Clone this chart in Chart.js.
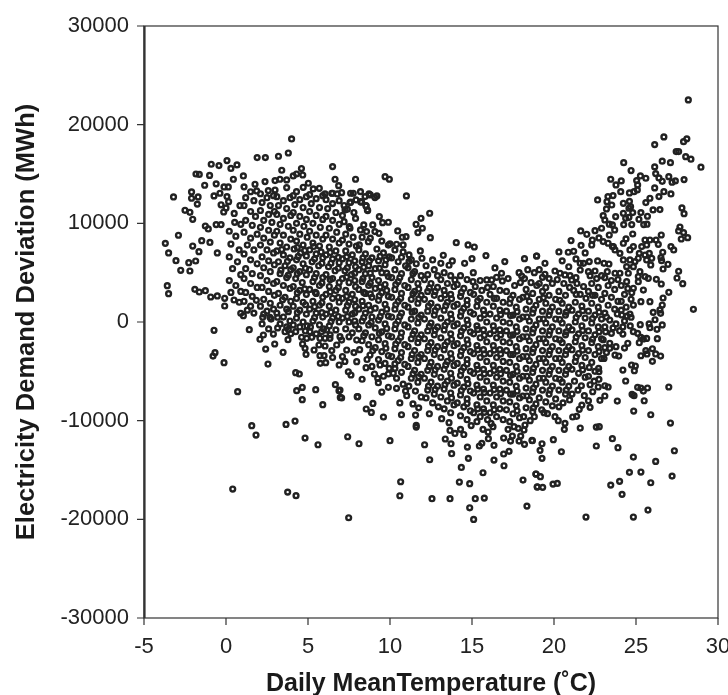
<!DOCTYPE html>
<html>
<head>
<meta charset="utf-8">
<title>Electricity demand deviation</title>
<script src="https://cdn.jsdelivr.net/npm/chart.js@4/dist/chart.umd.min.js"></script>
<style>
html, body { margin: 0; padding: 0; background: #fff; }
#wrap { width: 728px; height: 695px; }
</style>
</head>
<body>
<div id="wrap"><canvas id="myChart" width="728" height="695"></canvas></div>
<script>
// [temperature, deviation], grouped by part of the cloud
var coldEdge = [[4.0,18550],[3.8,17130],[1.9,16660],[2.4,16660],[3.2,16800],[3.4,15380],[4.6,15550],[6.5,15750],[0.06,16360],[-0.9,15990],[-0.43,15850],[0.67,15920],[0.3,15570],[-1.83,15000],[-1.63,14960],[-1,14860],[-1.3,13860],[-0.6,14000],[-2.1,13180],[-3.2,12675],[-2.1,12540],[-1.7,12675],[-0.73,12780],[-0.37,13050],[-0.12,13690],[0.14,13690],[0.06,12710],[0.16,12200],[-1.75,11950],[-0.3,11880],[0,11560],[-0.14,11150],[-2.5,11320],[-2.2,11120],[-2.03,10410],[-1.26,9730],[-1.08,9430],[-0.6,9870],[-0.3,9870],[0.53,10100],[-2.9,8790],[-3.7,7970],[-3.5,7000],[-3.05,6220],[-2.27,6010],[-1.85,6180],[-2.76,5240],[-2.2,5170],[-2.03,7700],[-1.48,8240],[-0.98,8070],[-1.65,7130],[-0.53,7000],[-3.58,3680],[-3.5,2870],[-1.9,3310],[-1.63,3040],[-1.26,3170],[-0.93,2535],[-0.53,2640],[-0.08,1620],[-0.08,2400],[0.49,2230],[0.81,2000],[-0.73,-840],[1.42,-780],[2.07,-1750],[2.28,-1320],[2.89,-1220],[2.97,-2230],[2.42,-2740],[3.48,-3070],[3.78,-1790],[2.56,-4260],[4.88,-3280],[5.37,-2840],[-0.67,-3110],[-0.79,-3450],[-0.12,-4120],[4.25,-5140],[4.47,-5270],[0.71,-7060],[4.31,-6960],[4.65,-6630],[5.47,-6860],[6.67,-6350],[6.89,-6970],[4.65,-7870],[5.9,-8380],[6.97,-7640],[1.57,-10510],[1.83,-11460],[3.66,-10380],[4.21,-10040],[4.82,-11760],[5.61,-12440],[0.41,-16930],[3.76,-17240],[4.27,-17600],[5.73,-3410],[5.98,-3410],[5.75,-4190],[6.08,-4120],[4.84,-910],[5.12,-980],[4.61,-1550],[4.92,-1650],[5.23,-1550],[4.67,-2230],[4.82,-2670],[3.6,-980],[4.25,-980],[3.8,-740],[0.9,880],[1.06,640],[2.24,480],[2.68,480],[3.15,480],[5.73,-1650],[6.04,-1650],[6.34,-1650],[6.04,-2430],[5.67,-2330],[5.83,-980],[6.14,-810],[6.75,-2330],[6.95,-1490],[6.9,-4360]];
var coldTop = [[1.06,14800],[0.45,14470],[1.77,13960],[2.38,14230],[2.99,14330],[3.29,14470],[3.7,14400],[4.1,14800],[4.3,15000],[4.68,14900],[5.02,14060],[4.71,13650],[3.7,13620],[4.3,13210],[2.99,13380],[2.58,13320],[1.87,13280],[5.32,13490],[5.69,13550],[6.04,12980],[6.5,13050],[6.78,12980],[6.65,14470],[6.87,13820],[7.9,14470],[9.7,14730],[9.96,14470],[11,12780],[9.2,12780],[8.8,12880]];
var coldRidge = [[6.45,13050],[7.05,13110],[7.6,13050],[7.76,13050],[8.2,13210],[8.48,12710],[8.72,12980],[9.08,12610],[7.6,12140],[7.93,12370],[8.27,12140],[8.54,11760],[8.64,11290]];
var midTop = [[12.42,11020],[11.89,10510],[11.59,9900],[11.97,9500],[11.7,9060],[12.46,8550],[14.04,8040],[14.76,7810],[15.14,7600],[15.85,6730],[17.0,6120],[18.2,6420],[18.94,6690],[15,6420],[14.55,5950],[16.4,5480],[16.8,4940],[15.08,5000],[15.06,4090],[17.87,5000],[18.03,4660],[15.9,4260],[16.2,4260],[16.5,4530],[16.85,4160],[13.96,4260],[13.8,6190],[13.6,5750],[13.25,6760],[13.1,5950],[12.6,6290],[11.95,6460],[11.85,7200],[11.16,6800],[10.7,6560],[11.16,6150],[10.47,9230],[10.75,8590],[10.98,8650],[10.8,7810],[10.4,7880],[10,7910],[9.9,10110],[9.55,10070],[9.35,10680],[8.95,9840],[8.4,9840],[8.2,9330],[8.57,9160],[9.08,9160],[9.33,8990],[8.62,11360],[8.54,11790],[8.21,12200],[7.56,12100],[7.26,11360],[7.4,11430],[8.68,8140],[8.13,7810],[7.56,9500],[7.2,10170],[7.52,9660]];
var midBottom = [[7.05,-1830],[7.97,-1830],[7.36,-2840],[8.78,-3350],[7.97,-4020],[8.54,-4630],[7.46,-5040],[7.62,-5370],[9.05,-5270],[9.25,-5710],[9.29,-6150],[9.9,-5270],[10.2,-5200],[9.9,-6620],[10.4,-6720],[8.03,-7570],[6.95,-6900],[11.02,-7470],[9.39,-4360],[7.42,-11630],[8.11,-12340],[10.0,-12030],[12.11,-12440],[12.42,-13960],[10.65,-16190],[10.6,-17610],[12.56,-17910],[13.66,-17910],[14.23,-16220],[14.86,-16390],[14.35,-14740],[15.67,-15280],[13.76,-13350],[14.78,-13820],[14.72,-12680],[16.34,-13990],[16.95,-14570],[15.2,-17910],[15.75,-17850],[14.86,-18830],[15.1,-20010],[7.48,-19840],[18.35,-18660],[18.11,-16020],[18.98,-16700],[18.9,-15410],[16.34,-12500],[16.93,-13380],[17.26,-13110],[15.45,-12570],[15.6,-12300],[13.72,-12340],[13.37,-11860],[18.66,-12000],[18.2,-12400],[8.0,-7570],[7.05,-7700],[8.96,-8250],[8.55,-8820],[8.86,-9160],[9.6,-9630],[10.7,-9400],[11.56,-9430],[11.6,-10480],[11.6,-10650],[13.66,-10990],[13.96,-11290],[14.3,-10880],[15.67,-10880],[15.98,-11150],[16,-11830],[16.16,-10280],[16.28,-10610],[16.93,-11760],[17.35,-12070],[17.87,-12070],[17.97,-11560],[17.2,-10880],[17.56,-10610],[17.82,-10780],[18.23,-10440],[18.17,-10950],[17.46,-11560]];
var warmBottom = [[28.5,1285],[27.0,-6590],[25.9,-9400],[27.1,-10240],[24.86,-9025],[27.34,-13050],[26.2,-14130],[27.2,-15620],[25.3,-15210],[24.6,-15240],[25.9,-16290],[24.0,-16150],[23.46,-16530],[24.15,-17470],[25.73,-19060],[24.84,-19770],[21.95,-19770],[24.84,-13690],[23.9,-12740],[23.56,-11830],[22.58,-12570],[20.45,-13150],[19.27,-13820],[19.15,-13010],[19.27,-12340],[19.96,-11930],[18.68,-12030],[18.9,-15410],[19.17,-15680],[18.98,-16730],[19.31,-16760],[19.94,-16430],[20.2,-16360],[21.6,-10750],[22.58,-10650],[22.76,-10610],[20.63,-10880],[20.67,-10270],[20.26,-10000],[21.14,-9630],[21.38,-9560],[20.06,-9600],[19.39,-9190],[19.6,-9290],[18.8,-9600],[22.2,-8650],[21.54,-8850],[21.7,-8420],[22.1,-7980],[21.85,-7470],[22.8,-7940],[23.1,-7500],[23.86,-8010],[24.88,-7470],[24.76,-7330],[25.5,-7980],[25.1,-6620],[25.3,-6690],[25.45,-7000],[25.7,-6690],[24.37,-5980],[24.2,-4870],[24.9,-4940],[24.73,-4360],[24.96,-4460],[23.3,-6590],[23.1,-6460],[22.7,-6590],[22.36,-7070],[22.2,-6360],[21.67,-6460],[21.46,-6900],[22.74,-5810],[22.72,-4700],[22.74,-5040],[26.0,-3990],[26.5,-3450],[26,-2710],[25.67,-3240],[25.3,-3420],[25.6,-2910],[26.2,-3240],[26.3,-1690],[25.2,-2100],[25.45,-1720],[25.65,-1660],[24.84,-980],[25.1,-1150],[25.3,-1550],[25.26,-270],[25.8,-200],[25.85,-580],[26.28,-740],[26.6,-300],[26.05,980],[26.5,880],[26.16,230],[26.6,1720],[26.46,1220],[25.85,2060],[25.3,2060],[24.84,1720],[24.63,810],[24.7,480],[24.2,-1220],[24.5,-2160],[24.3,-2640],[23.95,-3450],[23.72,-3350],[23.86,810],[24.13,710],[24,-880],[23.78,-200],[23.4,200],[23.5,-1150],[23.78,-2500],[23.4,-2160],[23.4,-2670]];
var warmTop = [[28.19,22510],[26.7,18760],[26.14,17980],[28.1,18560],[27.9,18280],[27.45,17270],[27.6,17270],[28.03,16760],[28.35,16500],[28.96,15690],[26.6,16300],[27.1,16150],[24.25,16150],[24.7,15350],[26.14,15720],[26.2,15040],[26.4,14600],[26.6,14260],[27,14730],[27.2,14170],[27.4,14300],[27.93,14430],[23.46,14470],[23.78,13890],[24.1,14300],[24.07,13210],[25.27,14800],[25.6,14570],[25.04,14330],[25.1,13890],[25.08,13385],[24.6,13080],[24.88,13210],[26.14,13590],[26.7,13210],[26.4,12710],[27.13,12980],[25.85,12540],[25.6,12100],[26.04,11360],[26.46,11390],[27.8,11560],[27.93,10980],[27.68,9630],[27.6,9230],[27.9,9060],[27.76,8410],[28.15,8550],[26.54,8820],[27.13,7640],[27.3,7300],[26.63,7070],[26.52,6520],[26.56,6220],[26.95,5850],[26.65,5370],[27.6,5140],[27.5,4460],[27.85,3880],[26.24,4330],[26.54,3850],[27,3010],[26.65,2430],[22.66,12370],[23.29,12710],[23.6,12810],[23.23,12200],[24.6,12230],[24.67,11690],[24.23,12030],[23.52,11860],[23.2,11460],[24.57,11530],[23,10780],[23.76,10680],[24.23,11020],[24.8,11090],[24.37,10510],[25.3,11090],[25.7,10720],[25.18,10410],[23.1,10340],[23.37,9910],[24.25,9870],[24.74,9870],[25.47,9870],[25.67,9910],[24.57,10610],[22.9,9500],[23.56,9840],[23.7,9330],[22.5,9260],[21.63,9230],[22,8890],[23.37,8820],[22.74,8520],[22.34,8310],[21.04,8250],[21.65,7770],[22.3,7810],[24.8,8920],[24.39,8420],[24.23,7980],[23.56,7640],[23,8150],[23.3,7980],[23.72,7300],[18.94,6690],[19.45,5950],[20.3,7100],[20.87,7070],[21.2,7170],[19.45,4840],[19.3,4530],[20.06,5170],[20.37,4940],[21.34,6390],[21.6,5950],[21.8,5950],[22.15,6120],[22.66,6190],[23.05,5950],[23.35,5880],[21.6,5270],[22.1,5100],[22.5,5170],[23.25,5100],[20.67,4770],[20.98,4700],[21.34,4490],[21.08,4260],[25.55,8310],[25.85,8310],[26.22,8310],[26.36,7870],[25.35,7640],[25.65,7810],[25.81,6960],[25.96,6460],[25.9,5780],[25.2,6960],[25.14,6460],[25.55,6790],[25.65,6290],[24.63,7300],[24.84,7640],[24.02,6960],[23.62,7640],[24.63,6290],[24.23,6290],[24.94,6120],[24.43,5610],[24.84,5610],[25.24,5100],[25.55,4600],[25.75,4430],[25.14,4600],[24.02,4940],[24.53,4940],[23.72,4940],[24.43,4090],[25.14,4090],[25.45,3240],[24.84,3420],[24.74,2970]];

// packed part of the cloud, one list per degree of temperature
var deg0 = [[0.2,9200],[0.6,8700],[0.3,7900],[0.8,7300],[0.2,6600],[0.7,6100],[0.4,5400],[0.9,4800],[0.2,4200],[0.6,3700],[0.9,3100],[0.3,3000],[0.5,11000],[0.85,11800],[0.9,9900]];
var deg1 = [[1.1,13700],[1.5,13200],[1.2,12600],[1.7,12300],[1.1,11800],[1.5,11200],[1.8,10700],[1.2,10300],[1.6,9800],[1.1,9100],[1.5,8500],[1.9,8900],[1.3,7800],[1.7,7300],[1.1,6900],[1.5,6300],[1.9,5900],[1.2,5400],[1.6,4900],[1.1,4400],[1.5,3900],[1.9,3500],[1.2,3000],[1.6,2600],[1.1,2100],[1.5,1600],[1.85,2200],[1.3,1200],[1.7,900]];
var deg2 = [[2.1,13000],[2.5,12600],[2.9,12800],[2.2,12100],[2.7,11800],[2.1,11300],[2.6,10900],[2.95,11200],[2.3,10300],[2.8,10100],[2.1,9600],[2.6,9300],[2.95,8800],[2.3,8500],[2.7,8100],[2.1,7800],[2.5,7300],[2.9,7000],[2.2,6600],[2.6,6200],[2.95,5800],[2.3,5500],[2.7,5100],[2.1,4700],[2.5,4200],[2.9,3900],[2.2,3500],[2.6,3100],[2.95,2700],[2.3,2300],[2.7,1900],[2.1,1600],[2.5,1100],[2.9,1300],[2.3,800],[2.75,300],[2.2,-200],[2.6,-700]];
var deg3 = [[3.1,12700],[3.5,12300],[3.9,12600],[3.2,11800],[3.7,11500],[3.1,10900],[3.5,10500],[3.95,10800],[3.3,9900],[3.8,9700],[3.1,9200],[3.5,8800],[3.95,8400],[3.3,8000],[3.7,7600],[3.1,7200],[3.5,6800],[3.9,6500],[3.2,6100],[3.6,5700],[3.95,5300],[3.3,4900],[3.7,4500],[3.1,4100],[3.5,3700],[3.9,3400],[3.2,2900],[3.6,2500],[3.95,2100],[3.3,1700],[3.7,1300],[3.1,900],[3.5,500],[3.9,100],[3.3,-200],[3.7,-500],[3.15,-600],[3.95,-1200]];
var deg4 = [[4.1,12800],[4.5,12400],[4.9,12700],[4.2,11900],[4.7,11600],[4.1,11100],[4.5,10700],[4.9,10400],[4.3,10000],[4.75,9700],[4.1,9300],[4.5,8900],[4.95,8600],[4.3,8200],[4.7,7800],[4.15,7400],[4.55,7000],[4.9,6700],[4.3,6300],[4.7,5900],[4.1,5500],[4.5,5100],[4.9,4800],[4.25,4400],[4.65,4000],[4.1,3600],[4.5,3200],[4.9,2800],[4.3,2400],[4.7,2000],[4.1,1600],[4.5,1200],[4.9,800],[4.3,400],[4.7,0],[4.1,-300],[4.5,-500],[4.95,-400]];
var deg5 = [[5.1,12900],[5.5,12500],[5.9,12800],[5.2,12000],[5.7,11600],[5.1,11200],[5.5,10800],[5.9,10400],[5.3,10000],[5.75,9600],[5.1,9200],[5.5,8800],[5.9,8400],[5.3,8000],[5.7,7700],[5.1,7300],[5.5,6900],[5.9,6500],[5.25,6100],[5.65,5700],[5.1,5300],[5.5,4900],[5.9,4500],[5.3,4100],[5.7,3700],[5.1,3300],[5.5,2900],[5.9,2500],[5.3,2100],[5.7,1700],[5.1,1300],[5.5,900],[5.9,500],[5.3,100],[5.7,-300],[5.15,-500],[5.95,-700],[5.5,-1200]];
var deg6 = [[6.1,12400],[6.5,12000],[6.9,12300],[6.2,11500],[6.7,11100],[6.1,10700],[6.5,10300],[6.9,9900],[6.3,9500],[6.75,9100],[6.1,8800],[6.5,8400],[6.9,8000],[6.3,7600],[6.7,7200],[6.1,6800],[6.5,6400],[6.9,6000],[6.25,5600],[6.65,5200],[6.1,4800],[6.5,4400],[6.9,4000],[6.3,3600],[6.7,3200],[6.1,2800],[6.5,2400],[6.9,2000],[6.3,1600],[6.7,1200],[6.1,800],[6.5,400],[6.9,0],[6.3,-400],[6.7,-800],[6.45,-2900],[6.5,-3600],[6.35,-1300]];
var deg7 = [[7.2,11800],[7.8,11100],[7.1,10800],[7.9,10500],[7.3,8900],[7.75,8600],[7.1,8300],[7.5,7900],[7.95,7700],[7.3,7200],[7.7,6800],[7.1,6400],[7.5,6000],[7.9,5600],[7.25,5200],[7.65,4800],[7.1,4400],[7.5,4000],[7.9,3600],[7.3,3200],[7.7,2800],[7.1,2400],[7.5,2000],[7.9,1600],[7.3,1200],[7.7,800],[7.1,400],[7.5,0],[7.9,-300],[7.3,-700],[7.7,-1100],[7.5,-1500],[7.25,-4000],[7.8,-3100],[7.1,-3500]];
var deg8 = [[8.3,8600],[8.8,8500],[8.1,7300],[8.5,6900],[8.9,6500],[8.3,6100],[8.7,5700],[8.1,5300],[8.5,4900],[8.9,4500],[8.3,4100],[8.7,3700],[8.1,3300],[8.5,2900],[8.9,2500],[8.3,2100],[8.7,1700],[8.1,1300],[8.5,900],[8.9,500],[8.3,100],[8.7,-300],[8.1,-700],[8.5,-1100],[8.9,-1500],[8.3,-1900],[8.7,-2300],[8.15,-2800],[8.95,-2900],[8.6,-3800],[8.9,-4500],[8.3,-5800]];
var deg9 = [[9.5,8200],[9.9,7800],[9.2,7400],[9.6,7000],[9.95,6600],[9.3,6200],[9.7,5800],[9.1,5400],[9.5,5000],[9.9,4600],[9.3,4200],[9.7,3800],[9.1,3400],[9.5,3000],[9.9,2600],[9.3,2200],[9.7,1800],[9.1,1400],[9.5,1000],[9.9,600],[9.3,200],[9.7,-200],[9.1,-600],[9.5,-1000],[9.9,-1400],[9.3,-1800],[9.7,-2200],[9.1,-2600],[9.5,-3000],[9.9,-3400],[9.3,-3800],[9.7,-4200],[9.95,-4700],[9.6,-5500],[9.5,-7100]];
var deg10 = [[10.3,7300],[10.8,7100],[10.1,6500],[10.5,6100],[10.95,5700],[10.3,5300],[10.7,4900],[10.1,4500],[10.5,4100],[10.9,3700],[10.3,3300],[10.7,2900],[10.1,2500],[10.5,2100],[10.9,1700],[10.3,1300],[10.7,900],[10.1,500],[10.5,100],[10.9,-300],[10.3,-700],[10.7,-1100],[10.1,-1500],[10.5,-1900],[10.9,-2300],[10.3,-2700],[10.7,-3100],[10.1,-3500],[10.5,-3900],[10.9,-4300],[10.3,-4700],[10.7,-5100],[10.4,-5700],[10.8,-6300],[10.95,-7000],[10.6,-8200]];
var deg11 = [[11.3,6300],[11.6,5900],[11.1,5500],[11.5,5100],[11.9,4700],[11.3,4300],[11.7,3900],[11.1,3500],[11.5,3100],[11.9,2700],[11.3,2300],[11.7,1900],[11.1,1500],[11.5,1100],[11.9,700],[11.3,300],[11.7,-100],[11.1,-500],[11.5,-900],[11.9,-1300],[11.3,-1700],[11.7,-2100],[11.1,-2500],[11.5,-2900],[11.9,-3300],[11.3,-3700],[11.7,-4100],[11.1,-4500],[11.5,-4900],[11.9,-5300],[11.3,-5700],[11.7,-6100],[11.15,-6500],[11.55,-7000],[11.9,-7600],[11.4,-8300],[11.75,-8700]];
var deg12 = [[12.2,5700],[12.7,5300],[12.3,4800],[12.9,4700],[12.1,4300],[12.5,3900],[12.9,3500],[12.3,3100],[12.7,2700],[12.1,2300],[12.5,1900],[12.9,1500],[12.3,1100],[12.7,700],[12.1,300],[12.5,-100],[12.9,-500],[12.3,-900],[12.7,-1300],[12.1,-1700],[12.5,-2100],[12.9,-2500],[12.3,-2900],[12.7,-3300],[12.1,-3700],[12.5,-4100],[12.9,-4500],[12.3,-4900],[12.7,-5300],[12.1,-5700],[12.5,-6100],[12.9,-6500],[12.3,-6900],[12.7,-7300],[12.2,-7700],[12.6,-8200],[12.95,-8600],[12.4,-9300]];
var deg13 = [[13.3,5000],[13.7,4700],[13.1,4300],[13.5,3900],[13.9,3600],[13.3,3200],[13.7,2800],[13.1,2400],[13.5,2000],[13.9,1600],[13.3,1200],[13.7,800],[13.1,400],[13.5,0],[13.9,-400],[13.3,-800],[13.7,-1200],[13.1,-1600],[13.5,-2000],[13.9,-2400],[13.3,-2800],[13.7,-3200],[13.1,-3600],[13.5,-4000],[13.9,-4400],[13.3,-4800],[13.7,-5200],[13.1,-5600],[13.5,-6000],[13.9,-6400],[13.3,-6800],[13.7,-7200],[13.1,-7600],[13.5,-8000],[13.9,-8400],[13.3,-8800],[13.7,-9200],[13.15,-9800],[13.6,-10200]];
var deg14 = [[14.3,4700],[14.7,4300],[14.1,3800],[14.5,3400],[14.9,3000],[14.3,2600],[14.7,2200],[14.1,1800],[14.5,1400],[14.9,1000],[14.3,600],[14.7,200],[14.1,-200],[14.5,-600],[14.9,-1000],[14.3,-1400],[14.7,-1800],[14.1,-2200],[14.5,-2600],[14.9,-3000],[14.3,-3400],[14.7,-3800],[14.1,-4200],[14.5,-4600],[14.9,-5000],[14.3,-5400],[14.7,-5800],[14.1,-6200],[14.5,-6600],[14.9,-7000],[14.3,-7400],[14.7,-7800],[14.1,-8200],[14.5,-8600],[14.9,-9000],[14.3,-9500],[14.7,-9900],[14.95,-10500],[14.5,-11400]];
var deg15 = [[15.5,4200],[15.2,3600],[15.6,3200],[15.95,3500],[15.1,2800],[15.5,2400],[15.9,2000],[15.3,1600],[15.7,1200],[15.1,800],[15.5,400],[15.9,0],[15.3,-400],[15.7,-800],[15.1,-1200],[15.5,-1600],[15.9,-2000],[15.3,-2400],[15.7,-2800],[15.1,-3200],[15.5,-3600],[15.9,-4000],[15.3,-4400],[15.7,-4800],[15.1,-5200],[15.5,-5600],[15.9,-6000],[15.3,-6400],[15.7,-6800],[15.1,-7200],[15.5,-7600],[15.9,-8000],[15.3,-8400],[15.7,-8800],[15.1,-9200],[15.5,-9600],[15.95,-9900],[15.3,-10100]];
var deg16 = [[16.3,3600],[16.7,3200],[16.1,2800],[16.5,2400],[16.9,2000],[16.3,1600],[16.7,1200],[16.1,800],[16.5,400],[16.9,0],[16.3,-400],[16.7,-800],[16.1,-1200],[16.5,-1600],[16.9,-2000],[16.3,-2400],[16.7,-2800],[16.1,-3200],[16.5,-3600],[16.9,-4000],[16.3,-4400],[16.7,-4800],[16.1,-5200],[16.5,-5600],[16.9,-6000],[16.3,-6400],[16.7,-6800],[16.1,-7200],[16.5,-7600],[16.9,-8000],[16.3,-8400],[16.7,-8800],[16.1,-9200],[16.5,-9600],[16.9,-9900]];
var deg17 = [[17.2,4400],[17.6,3700],[17.95,4000],[17.1,3100],[17.5,2700],[17.9,2300],[17.3,1900],[17.7,1500],[17.1,1100],[17.5,700],[17.9,300],[17.3,-100],[17.7,-500],[17.1,-900],[17.5,-1300],[17.9,-1700],[17.3,-2100],[17.7,-2500],[17.1,-2900],[17.5,-3300],[17.9,-3700],[17.3,-4100],[17.7,-4500],[17.1,-4900],[17.5,-5300],[17.9,-5700],[17.3,-6100],[17.7,-6500],[17.1,-6900],[17.5,-7300],[17.9,-7700],[17.3,-8100],[17.7,-8500],[17.1,-8900],[17.5,-9300],[17.9,-9700],[17.3,-10100]];
var deg18 = [[18.4,5300],[18.8,5000],[18.2,4400],[18.6,4000],[18.95,3700],[18.3,3300],[18.7,2900],[18.1,2500],[18.5,2100],[18.9,1700],[18.3,1300],[18.7,900],[18.1,500],[18.5,100],[18.9,-300],[18.3,-700],[18.7,-1100],[18.1,-1500],[18.5,-1900],[18.9,-2300],[18.3,-2700],[18.7,-3100],[18.1,-3500],[18.5,-3900],[18.9,-4300],[18.3,-4700],[18.7,-5100],[18.1,-5500],[18.5,-5900],[18.9,-6300],[18.3,-6700],[18.7,-7100],[18.1,-7500],[18.5,-7900],[18.9,-8300],[18.3,-8700],[18.7,-9100],[18.15,-9600],[18.55,-10000]];
var deg19 = [[19.1,5300],[19.7,4400],[19.1,3900],[19.5,3500],[19.9,3900],[19.3,3100],[19.7,2700],[19.1,2300],[19.5,1900],[19.9,1500],[19.3,1100],[19.7,700],[19.1,300],[19.5,-100],[19.9,-500],[19.3,-900],[19.7,-1300],[19.1,-1700],[19.5,-2100],[19.9,-2500],[19.3,-2900],[19.7,-3300],[19.1,-3700],[19.5,-4100],[19.9,-4500],[19.3,-4900],[19.7,-5300],[19.1,-5700],[19.5,-6100],[19.9,-6500],[19.3,-6900],[19.7,-7300],[19.1,-7700],[19.5,-8100],[19.9,-8500],[19.25,-8900]];
var deg20 = [[20.5,6200],[20.9,5600],[20.2,4300],[20.6,3900],[20.95,3500],[20.3,3100],[20.7,2700],[20.1,2300],[20.5,1900],[20.9,1500],[20.3,1100],[20.7,700],[20.1,300],[20.5,-100],[20.9,-500],[20.3,-900],[20.7,-1300],[20.1,-1700],[20.5,-2100],[20.9,-2500],[20.3,-2900],[20.7,-3300],[20.1,-3700],[20.5,-4100],[20.9,-4500],[20.3,-4900],[20.7,-5300],[20.1,-5700],[20.5,-6100],[20.9,-6500],[20.3,-6900],[20.7,-7300],[20.1,-7800],[20.55,-8200],[20.95,-7900],[20.3,-8600]];
var deg21 = [[21.9,7000],[21.4,3900],[21.8,3600],[21.2,3200],[21.6,2800],[21.95,2400],[21.3,2000],[21.7,1600],[21.1,1200],[21.5,800],[21.9,400],[21.3,0],[21.7,-400],[21.1,-800],[21.5,-1200],[21.9,-1600],[21.3,-2000],[21.7,-2400],[21.1,-2800],[21.5,-3200],[21.9,-3600],[21.3,-4000],[21.7,-4400],[21.1,-4800],[21.5,-5200],[21.9,-5600],[21.25,-6000],[21.1,-7300]];
var deg22 = [[22.2,4700],[22.6,4400],[22.9,4700],[22.3,3900],[22.7,3500],[22.1,3100],[22.5,2700],[22.9,2300],[22.3,1900],[22.7,1500],[22.1,1100],[22.5,700],[22.9,300],[22.3,-100],[22.7,-500],[22.1,-900],[22.5,-1300],[22.9,-1700],[22.3,-2100],[22.7,-2500],[22.1,-2900],[22.5,-3300],[22.9,-3700],[22.3,-4100],[22.15,-4600],[22.5,-5000],[22.1,-5500],[22.45,-6000]];
var deg23 = [[23.1,4500],[23.5,4200],[23.9,4300],[23.3,3700],[23.7,3300],[23.1,2900],[23.5,2500],[23.9,2100],[23.3,1700],[23.7,1300],[23.1,900],[23.2,500],[23.6,-600],[23.1,-500],[23.15,-1000],[23,-1800],[23.1,-2600],[23.2,-3100],[23.05,-3700]];
var deg24 = [[24.1,3700],[24.5,3400],[24.3,2800],[24.7,2300],[24.1,2100],[24.4,1500],[24.1,1200],[24.45,600],[24.3,100],[24.65,-400],[24.2,-500]];

// darkest part of the cloud, more marks between those above
var packedCold = [[3.4,7350],[3.75,6150],[3.35,5250],[3.8,4750],[3.45,2250],[3.8,1050],[4.35,7550],[4.8,7250],[4.4,6650],[4.85,5450],[4.35,4900],[4.8,3350],[4.35,2950],[4.85,1750],[4.35,950],[5.35,7650],[5.8,7100],[5.4,6400],[5.85,5950],[5.4,4500],[5.85,3950],[5.45,3000],[5.85,1950],[5.4,1550],[5.85,950],[5.4,450],[6.35,7050],[6.85,6550],[6.4,5950],[6.85,5450],[6.35,4300],[6.85,3500],[6.35,3050],[6.85,2500],[6.4,1000],[6.85,550],[6.4,50],[7.35,6600],[7.85,6200],[7.4,5500],[7.85,4950],[7.35,4550],[7.85,4200],[7.35,2600],[7.85,2250],[7.4,1650],[7.85,950],[7.4,550],[7.85,100],[8.35,6500],[8.75,6200],[8.4,5550],[8.8,4950],[8.35,4400],[8.8,3950],[8.4,3000],[8.8,2850],[8.35,1650],[8.8,1200],[8.4,450],[8.85,-50],[8.4,-1400],[9.4,6650],[9.75,6300],[9.35,5450],[9.8,4950],[9.4,3550],[9.8,3200],[9.35,2650],[9.8,1300],[9.4,550],[9.8,-650],[9.35,-1150],[9.75,-2650]];
var packedMid = [[10.6,4500],[10.35,3800],[10.65,2400],[10.35,1750],[10.6,550],[10.35,-250],[10.65,-1550],[10.35,-2250],[10.65,-3600],[10.3,-4250],[11.4,4900],[11.75,3350],[11.4,2850],[11.75,2350],[11.35,1000],[11.75,450],[11.4,-1250],[11.75,-1650],[11.35,-3300],[11.75,-3550],[11.4,-5250],[11.75,-5550],[12.4,3450],[12.75,3100],[12.35,1600],[12.75,1150],[12.4,-450],[12.75,-800],[12.35,-2450],[12.75,-2850],[12.4,-4500],[12.75,-4850],[12.35,-6500],[12.75,-6850],[13.35,2750],[13.75,2350],[13.4,1650],[13.75,300],[13.35,-350],[13.75,-1750],[13.35,-2350],[13.75,-3700],[13.4,-4350],[13.75,-5700],[13.35,-6350],[13.75,-7700],[14.35,3000],[14.7,1750],[14.35,1050],[14.75,-250],[14.35,-950],[14.75,-2250],[14.35,-2950],[14.7,-4250],[14.35,-4950],[14.75,-6250],[14.35,-6950],[14.7,-8250],[15.35,2150],[15.75,750],[15.35,-750],[15.75,-1350],[15.35,-2800],[15.75,-3250],[15.35,-4800],[15.75,-5250],[15.35,-6800],[15.75,-7150],[15.35,-8800],[15.75,-9150],[16.35,2400],[16.75,750],[16.35,-850],[16.75,-1300],[16.35,-2850],[16.75,-3250],[16.35,-4900],[16.75,-5250],[16.35,-6850],[16.75,-7250],[16.35,-8900],[17.35,2350],[17.75,1050],[17.35,650],[17.75,-950],[17.35,-1350],[17.75,-2950],[17.35,-3300],[17.75,-5000],[17.35,-5400],[17.75,-7000],[17.35,-7300],[17.75,-9000],[18.35,2600],[18.75,1300],[18.35,500],[18.75,-700],[18.35,-1500],[18.75,-2700],[18.35,-3500],[18.75,-4700],[18.35,-5500],[18.75,-6700],[18.35,-7500],[18.75,-8700],[19.35,2450],[19.75,1100],[19.35,300],[19.75,-900],[19.35,-1700],[19.75,-2900],[19.35,-3700],[19.75,-4900],[19.35,-5700],[19.75,-6900],[20.35,2200],[20.75,1000],[20.35,250],[20.75,-1000],[20.35,-1800],[20.75,-2900],[20.35,-3700],[20.75,-4900],[20.35,-5800],[20.75,-6900],[21.35,2800],[21.75,1150],[21.35,450],[21.75,-850],[21.35,-1550],[21.75,-2850],[21.35,-3550],[21.75,-4850],[22.35,2700],[22.75,1000],[22.35,350],[22.75,-1000],[22.35,-1750],[22.75,-3000]];

var grupos = [coldEdge, coldTop, coldRidge, midTop, midBottom, warmBottom, warmTop,
    deg0, deg1, deg2, deg3, deg4, deg5, deg6, deg7, deg8, deg9, deg10, deg11,
    deg12, deg13, deg14, deg15, deg16, deg17, deg18, deg19, deg20, deg21, deg22, deg23, deg24,
    packedCold, packedMid];

var puntos = [];
grupos.forEach(function (g) {
    g.forEach(function (p) {
        puntos.push({ x: p[0], y: p[1] });
    });
});

var tickColor = '#333333';
var textColor = '#222222';
var tickLen = 7;

// frame and tick marks: left side is heavier than the other three
var frameBox = {
    id: 'frameBox',
    beforeDatasetsDraw: function (chart) {
        var a = chart.chartArea, ctx = chart.ctx;
        ctx.save();
        ctx.strokeStyle = tickColor;
        ctx.lineWidth = 1.2;
        ctx.strokeRect(a.left, a.top, a.right - a.left, a.bottom - a.top);
        ctx.beginPath();
        chart.scales.x.ticks.forEach(function (t) {
            var px = chart.scales.x.getPixelForValue(t.value);
            ctx.moveTo(px, a.bottom);
            ctx.lineTo(px, a.bottom + tickLen);
        });
        chart.scales.y.ticks.forEach(function (t) {
            var py = chart.scales.y.getPixelForValue(t.value);
            ctx.moveTo(a.left, py);
            ctx.lineTo(a.left - tickLen, py);
        });
        ctx.stroke();
        ctx.lineWidth = 2.2;
        ctx.beginPath();
        ctx.moveTo(a.left + 0.5, a.top);
        ctx.lineTo(a.left + 0.5, a.bottom);
        ctx.stroke();
        ctx.restore();
    }
};

var ctx = document.getElementById('myChart').getContext('2d');
var myChart = new Chart(ctx, {
    type: 'scatter',
    data: {
        datasets: [{
            data: puntos,
            pointStyle: 'circle',
            pointRadius: 2.4,
            pointBorderWidth: 2.4,
            pointBorderColor: '#222222',
            pointBackgroundColor: 'rgba(255,255,255,0)'
        }]
    },
    options: {
        responsive: false,
        animation: false,
        layout: { padding: { top: 26, right: 10, left: 0, bottom: 0 } },
        plugins: { legend: { display: false }, tooltip: { enabled: false } },
        scales: {
            x: {
                type: 'linear',
                min: -5,
                max: 30,
                afterFit: function (s) { s.height = 77; s.paddingLeft = 0; s.paddingRight = 0; },
                border: { display: false },
                grid: { drawOnChartArea: false, drawTicks: true, tickLength: tickLen, tickColor: 'rgba(0,0,0,0)' },
                ticks: { stepSize: 5, maxRotation: 0, autoSkip: false, padding: 9, color: textColor, font: { family: "'Liberation Sans'", size: 22 } },
                title: { display: true, text: 'Daily MeanTemperature (˚C)', color: '#1a1a1a', padding: { top: 0, bottom: 0 }, font: { family: "'Liberation Sans'", size: 25, weight: 'bold', lineHeight: 0.85 } }
            },
            y: {
                type: 'linear',
                min: -30000,
                max: 30000,
                afterFit: function (s) { s.width = 144; s.paddingTop = 0; s.paddingBottom = 0; },
                border: { display: false },
                grid: { drawOnChartArea: false, drawTicks: true, tickLength: tickLen, tickColor: 'rgba(0,0,0,0)' },
                ticks: {
                    stepSize: 10000,
                    padding: 8,
                    color: textColor,
                    font: { family: "'Liberation Sans'", size: 22 },
                    callback: function (value) { return String(value); }
                },
                title: { display: true, text: 'Electricity Demand Deviation (MWh)', color: '#1a1a1a', padding: { top: 14, bottom: 0 }, font: { family: "'Liberation Sans'", size: 25.5, weight: 'bold', lineHeight: 1 } }
            }
        }
    },
    plugins: [frameBox]
});
</script>
</body>
</html>
